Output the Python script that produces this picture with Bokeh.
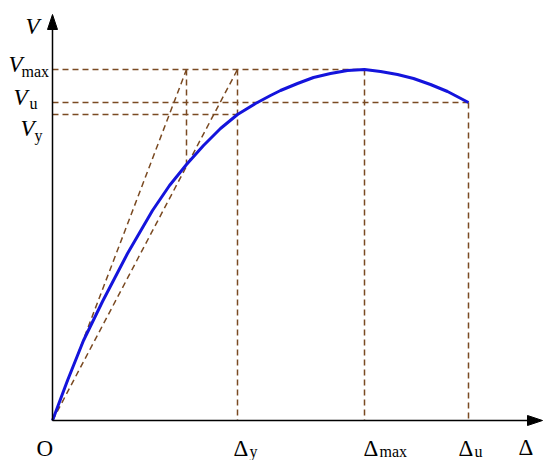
from bokeh.plotting import figure
from bokeh.embed import file_html
from bokeh.resources import INLINE
from bokeh.core.properties import value

# ---- data (arbitrary units) ----
delta = [0, 15, 31, 50, 75, 100, 117, 134, 151, 168, 185, 203, 218, 228, 245,
         261, 278, 295, 312, 328, 345, 361, 378, 395, 416]
shear = [0, 40, 80, 119, 167, 210, 235, 256, 275, 292, 306, 317, 325, 330, 337,
         343, 347, 350, 351, 349, 346, 342, 336, 329, 318]

V_max, V_u, V_y = 351, 318, 306
D_y, D_max, D_u = 185, 312, 416
D_t, V_t = 134, 256          # tangent reaches V_max at D_t; curve value there V_t

x_end, y_end = 490, 406      # axis extents (arrow tips)

DASH = "#7A4A22"
BLUE = "#1414DC"
FONT = value("Liberation Serif")

p = figure(width=550, height=460, x_range=(-52, 498), y_range=(-40, 420),
           output_backend="svg", toolbar_location=None, min_border=0,
           x_axis_type=None, y_axis_type=None)
p.grid.visible = False
p.outline_line_color = None
p.background_fill_color = "white"

dash_kw = dict(line_color=DASH, line_width=1.5, line_dash="6 4")

# horizontal reference lines
p.segment(x0=[0, 0, 0], y0=[V_max, V_u, V_y], x1=[D_max, D_u, D_y], y1=[V_max, V_u, V_y], **dash_kw)
# vertical reference lines
p.segment(x0=[D_y, D_max, D_u, D_t], y0=[V_max, V_max, V_u, V_max],
          x1=[D_y, D_max, D_u, D_t], y1=[0, 0, 0, V_t], **dash_kw)
# tangent and secant lines from origin
p.segment(x0=[0, 0], y0=[0, 0], x1=[D_t, D_y], y1=[V_max, V_max], **dash_kw)

# capacity curve
p.line(delta, shear, line_color=BLUE, line_width=3)

# axes with arrow heads
p.segment(x0=[0, 0], y0=[0, 0], x1=[x_end - 10, 0], y1=[0, y_end - 10], line_color="black", line_width=1.5)
hl, hw = 15, 5
p.patches(xs=[[x_end, x_end - hl, x_end - hl], [0, -hw, hw]],
          ys=[[0, hw, -hw], [y_end, y_end - hl, y_end - hl]],
          fill_color="black", line_color="black")

# --- labels ---
main = dict(text_font=FONT, text_font_size="23px", text_color="black",
            text_align="left", text_baseline="alphabetic")
sub = dict(text_font=FONT, text_font_size="16px", text_color="black",
           text_align="left", text_baseline="alphabetic")

# origin and axis label
p.text(x=[-16], y=[-28], text=["O"], **main)
p.text(x=[x_end - 24], y=[-27], text=["Δ"], **main)
p.text(x=[-27], y=[y_end - 12], text=["V"], text_font_style="italic", **main)

# V labels
p.text(x=[-44, -39, -32], y=[V_max + 5, V_u + 5, V_y - 14], text=["V", "V", "V"],
       text_font_style="italic", **main)
p.text(x=[-31, -23, -18], y=[V_max - 2, V_u - 1, V_y - 21], text=["max", "u", "y"], **sub)

# Delta labels
p.text(x=[D_y - 4, D_max - 1, D_u - 10], y=[-28, -28, -28], text=["Δ", "Δ", "Δ"], **main)
p.text(x=[D_y + 12, D_max + 15, D_u + 6], y=[-31, -31, -31], text=["y", "max", "u"], **sub)

open("out.html", "w").write(file_html(p, INLINE))
